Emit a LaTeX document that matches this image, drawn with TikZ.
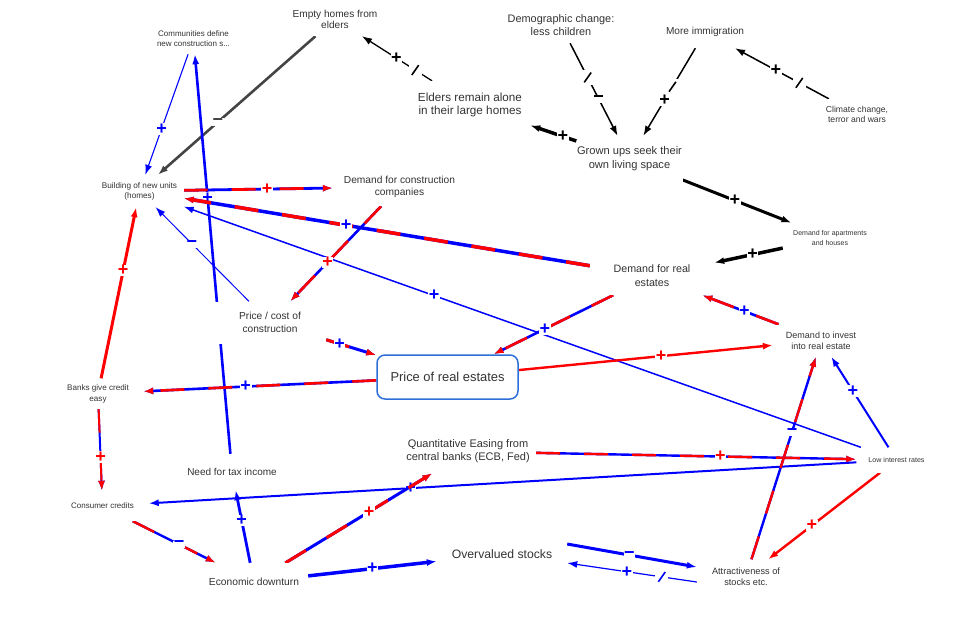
\documentclass[tikz,border=0pt]{standalone}
\usepackage{fontspec}
\setmainfont{Liberation Sans}
\usetikzlibrary{arrows.meta}

\definecolor{txtgray}{HTML}{333333}
\definecolor{darkedge}{HTML}{444444}
\definecolor{boxblue}{HTML}{2E6FD9}

\pgfdeclarelayer{edges}
\pgfsetlayers{edges,main}

\newcommand{\delaymark}{\rotatebox{-35}{\rule{1.6pt}{12pt}}}

\tikzset{
  factor/.style 2 args={rectangle, fill=white, align=center, text=txtgray, inner sep=0pt,
    minimum width=#1, minimum height=#2},
  fs/.style args={#1/#2}{font=\fontsize{#1}{#2}\selectfont},
  link/.style={line width=#1, -{Latex[length=10pt,width=7pt]}},
  mixed/.style={link=#1, draw=red, dash pattern=on 24pt off 24pt,
    preaction={draw=blue, solid, line width=#1}},
  sign/.style={fill=white, inner sep=0.5pt, font=\bfseries\fontsize{18}{18}\selectfont},
  delay/.style={fill=white, inner sep=2.5pt},
}

\begin{document}
\begin{tikzpicture}[x=1pt, y=-1pt]
  \useasboundingbox (0,0) rectangle (979,633);
  % Factors
  \node[factor={100pt}{34pt}, fs=10.1/11] (emp) at (335,19) {Empty homes from\\elders};
  \node[factor={82pt}{30pt}, fs=8/10] (com) at (193.5,39) {Communities define\\new construction s...};
  \node[factor={110pt}{35pt}, fs=10.9/13] (dem) at (561,25.5) {Demographic change:\\less children};
  \node[factor={90pt}{32pt}, fs=10.1/12] (imm) at (705,32) {More immigration};
  \node[factor={120pt}{48pt}, fs=11.7/12.6] (eld) at (470,105) {Elders remain alone\\in their large homes};
  \node[factor={70pt}{30pt}, fs=8.6/10] (cli) at (857,114) {Climate change,\\terror and wars};
  \node[factor={106pt}{46pt}, fs=11.1/14] (grw) at (629.5,159) {Grown ups seek their\\own living space};
  \node[factor={88pt}{32pt}, fs=8.2/10] (bld) at (139.5,191) {Building of new units\\(homes)};
  \node[factor={133pt}{38pt}, fs=10.2/12] (dcc) at (399.5,187) {Demand for construction\\companies};
  \node[factor={94pt}{30pt}, fs=7/10] (dap) at (830,238) {Demand for apartments\\and houses};
  \node[factor={124pt}{38pt}, fs=10.7/14] (dre) at (652,276) {Demand for real\\estates};
  \node[factor={112pt}{42pt}, fs=10.2/13] (pcc) at (270,322.5) {Price / cost of\\construction};
  \node[factor={96pt}{32pt}, fs=9/11] (dti) at (821,340.5) {Demand to invest\\into real estate};
  \node[factor={141pt}{44pt}, fs=12.9/14, draw=boxblue, line width=1.5pt, rounded corners=8pt]
    (pre) at (447.5,377) {Price of real estates};
  \node[factor={90pt}{30pt}, fs=8.1/11] (bnk) at (98,393.5) {Banks give credit\\easy};
  \node[factor={136pt}{43pt}, fs=11/13] (qe) at (468,451.5) {Quantitative Easing from\\central banks (ECB, Fed)};
  \node[factor={80pt}{25pt}, fs=7.1/9] (lir) at (896.5,460) {Low interest rates};
  \node[factor={110pt}{36pt}, fs=10/12] (tax) at (232,472) {Need for tax income};
  \node[factor={92pt}{30pt}, fs=8/10] (ccr) at (102.5,506) {Consumer credits};
  \node[factor={130pt}{30pt}, fs=12.2/14] (ovs) at (502,554) {Overvalued stocks};
  \node[factor={108pt}{38pt}, fs=10.25/12] (eco) at (254,582) {Economic downturn};
  \node[factor={98pt}{34pt}, fs=9.2/11] (att) at (746,576.5) {Attractiveness of\\stocks etc.};

  \begin{pgfonlayer}{edges}
  % Population and living space
  \draw[link=1.3pt, black] (eld) -- node[sign, pos=.51] {+} node[delay, pos=.24] {\delaymark} (emp);
  \draw[link=3.5pt, black] (grw) -- node[sign, pos=.29] {+} (eld);
  \draw[link=1.5pt, black] (dem) -- node[sign, pos=.6] {−} node[delay, pos=.37] {\delaymark} (grw);
  \draw[link=1.5pt, black] (imm) -- node[sign, pos=.59] {+} node[delay, pos=.44] {\delaymark} (grw);
  \draw[link=1.5pt, black] (cli) -- node[sign, pos=.565] {+} node[delay, pos=.315] {\delaymark} (imm);
  \draw[link=3pt, black] (grw) -- node[sign, pos=.48] {+} (dap);
  \draw[link=3.5pt, black] (dap) -- node[sign, pos=.44] {+} (dre);
  % Building
  \draw[link=2.6pt, darkedge] (emp) -- node[sign, pos=.62] {−} (bld);
  \draw[link=1.1pt, blue] (com) -- node[sign, pos=.62] {+} (bld);
  \draw[link=2.6pt, blue] (tax) -- node[sign, pos=.64] {+} (com);
  \draw[link=1.5pt, blue] (lir) -- node[sign, pos=.63] {+} (bld);
  \draw[link=1pt, blue] (pcc) -- node[sign, pos=.61] {−} (bld);
  \draw[mixed=2.8pt] (bld) -- node[sign, text=red, pos=.56] {+} (dcc);
  \draw[mixed=3.5pt] (dre) -- node[sign, text=blue, pos=.6] {+} (bld);
  \draw[mixed=2.6pt] (dcc) -- node[sign, text=red, pos=.59] {+} (pcc);
  \draw[link=3pt, red] (bnk) -- node[sign, pos=.63] {+} (bld);
  % Real estate prices
  \draw[mixed=3pt] (pcc) -- node[sign, text=blue, pos=.27] {+} (pre);
  \draw[mixed=2.6pt] (dre) -- node[sign, text=blue, pos=.57] {+} (pre);
  \draw[mixed=2.6pt] (pre) -- node[sign, text=blue, pos=.56] {+} (bnk);
  \draw[link=2.4pt, red] (pre) -- node[sign, pos=.56] {+} (dti);
  \draw[mixed=2.6pt] (dti) -- node[sign, text=blue, pos=.45] {+} (dre);
  % Credit and downturn
  \draw[mixed=2pt] (bnk) -- node[sign, text=red, pos=.59] {+} (ccr);
  \draw[link=2pt, blue] (lir) -- node[sign, pos=.63] {+} (ccr);
  \draw[mixed=2.4pt] (ccr) -- node[sign, text=blue, pos=.56] {−} (eco);
  \draw[link=2.8pt, blue] (eco) -- node[sign, pos=.58] {+} (tax);
  \draw[mixed=3pt] (eco) -- node[sign, text=red, pos=.57] {+} (qe);
  \draw[link=3.5pt, blue] (eco) -- node[sign, pos=.5] {+} (ovs);
  \draw[mixed=2.4pt] (qe) -- node[sign, text=red, pos=.575] {+} (lir);
  % Stocks
  \draw[link=3pt, blue] ([yshift=10pt]ovs.east) -- node[sign, pos=.48] {−} ([yshift=9.5pt]att.west);
  \draw[link=1.2pt, blue] ([yshift=-5.5pt]att.west) -- node[sign, pos=.54] {+}
    node[delay, pos=.27] {\delaymark} ([yshift=-9pt]ovs.east);
  \draw[mixed=2.4pt] (att) -- node[sign, text=blue, pos=.63] {−} (dti);
  \draw[link=2pt, blue] (lir) -- node[sign, pos=.62] {+} (dti);
  \draw[link=2.4pt, red] (lir) -- node[sign, pos=.61] {+} (att);
  \end{pgfonlayer}
\end{tikzpicture}
\end{document}
